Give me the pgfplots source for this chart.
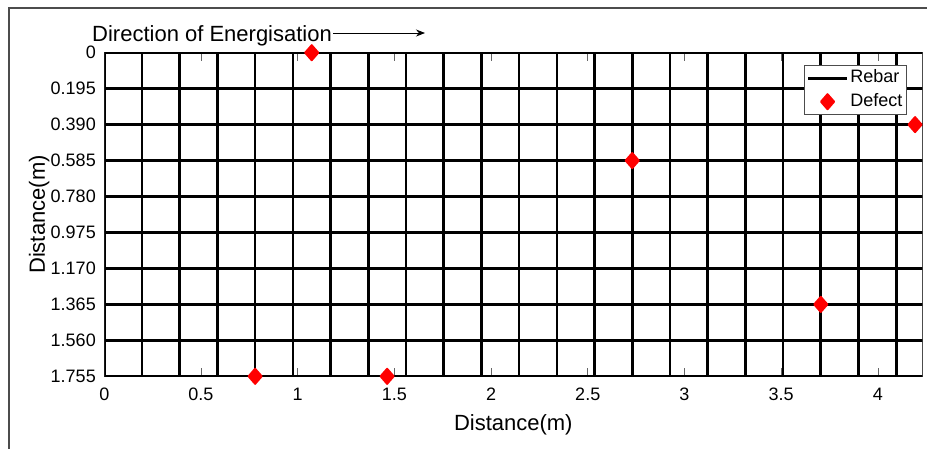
\documentclass[border=0pt]{standalone}
\usepackage{fontspec}
\setmainfont{Liberation Sans}
\usepackage{pgfplots}
\pgfplotsset{compat=1.18}
\usetikzlibrary{arrows.meta}
\pgfplotsset{
  rebarlegend/.style={legend image code/.code={\draw[black,line width=2.6pt] (0pt,0pt) -- (39pt,0pt);}},
  defectlegend/.style={legend image code/.code={\draw[mark repeat=2,mark phase=2,##1] plot coordinates {(0pt,0pt) (19.5pt,0pt) (39pt,0pt)};}},
}
\begin{document}
\begin{tikzpicture}
\useasboundingbox (0,0) rectangle (927pt,-448pt);
\draw[line width=1.3pt, color=black!70] (9pt,-452pt) -- (9pt,-8pt) -- (932pt,-8pt);
\node[anchor=base west, font=\fontsize{22}{26}\selectfont, inner sep=0pt] at (92pt,-41.5pt) {Direction of Energisation};
\draw[-{Stealth[length=9pt,width=7pt]}, line width=0.8pt] (333pt,-33pt) -- (425pt,-33pt);
\begin{axis}[
  at={(104.3pt,-376.3pt)}, anchor=south west,
  scale only axis, width=818pt, height=323.6pt,
  xmin=0, xmax=4.23, ymin=0, ymax=1.755,
  y dir=reverse,
  unbounded coords=jump,
  axis line style={black!70, line width=0.8pt},
  xtick={0,0.5,1,1.5,2,2.5,3,3.5,4},
  xticklabels={0,0.5,1,1.5,2,2.5,3,3.5,4},
  ytick={0,0.195,0.39,0.585,0.78,0.975,1.17,1.365,1.56,1.755},
  yticklabels={0,0.195,0.390,0.585,0.780,0.975,1.170,1.365,1.560,1.755},
  tick align=inside, major tick length=8pt,
  tick style={black!60, line width=0.6pt},
  ticklabel style={font=\fontsize{18}{21}\selectfont},
  xticklabel style={yshift=-8pt},
  yticklabel style={xshift=-5pt},
  /pgf/number format/assume math mode=true,
  xlabel={Distance(m)}, ylabel={Distance(m)},
  label style={font=\fontsize{22}{26}\selectfont},
  xlabel style={at={(axis description cs:0.5,-0.166)}, anchor=base},
  ylabel style={at={(axis description cs:-0.0725,0.5)}, anchor=base},
  legend style={at={(0.981,0.962)}, anchor=north east, draw=black!70, line width=0.8pt,
    font=\fontsize{18}{21}\selectfont, inner xsep=2pt, inner ysep=1.2pt, row sep=0pt, column sep=0pt,
    nodes={inner xsep=2pt, inner ysep=3pt, text height=13pt, text depth=4.4pt}},
  legend cell align=left,
]
\addplot[black, line width=2.6pt, rebarlegend] coordinates {
(0,0) (0,1.755) (nan,nan)
(0.195,0) (0.195,1.755) (nan,nan)
(0.39,0) (0.39,1.755) (nan,nan)
(0.585,0) (0.585,1.755) (nan,nan)
(0.78,0) (0.78,1.755) (nan,nan)
(0.975,0) (0.975,1.755) (nan,nan)
(1.17,0) (1.17,1.755) (nan,nan)
(1.365,0) (1.365,1.755) (nan,nan)
(1.56,0) (1.56,1.755) (nan,nan)
(1.755,0) (1.755,1.755) (nan,nan)
(1.95,0) (1.95,1.755) (nan,nan)
(2.145,0) (2.145,1.755) (nan,nan)
(2.34,0) (2.34,1.755) (nan,nan)
(2.535,0) (2.535,1.755) (nan,nan)
(2.73,0) (2.73,1.755) (nan,nan)
(2.925,0) (2.925,1.755) (nan,nan)
(3.12,0) (3.12,1.755) (nan,nan)
(3.315,0) (3.315,1.755) (nan,nan)
(3.51,0) (3.51,1.755) (nan,nan)
(3.705,0) (3.705,1.755) (nan,nan)
(3.9,0) (3.9,1.755) (nan,nan)
(4.095,0) (4.095,1.755) (nan,nan)
(0,0) (4.3,0) (nan,nan)
(0,0.195) (4.3,0.195) (nan,nan)
(0,0.39) (4.3,0.39) (nan,nan)
(0,0.585) (4.3,0.585) (nan,nan)
(0,0.78) (4.3,0.78) (nan,nan)
(0,0.975) (4.3,0.975) (nan,nan)
(0,1.17) (4.3,1.17) (nan,nan)
(0,1.365) (4.3,1.365) (nan,nan)
(0,1.56) (4.3,1.56) (nan,nan)
(0,1.755) (4.3,1.755)
};
\addlegendentry{Rebar}
\addplot[only marks, mark=diamond*, mark size=7.5pt, color=red,
  mark options={xscale=1.16, fill=red, draw=red, line width=2pt, line join=round}, defectlegend] coordinates {
(1.0725,0) (0.78,1.755) (1.4625,1.755) (2.73,0.585) (3.705,1.365) (4.1925,0.39)
};
\addlegendentry{Defect}
\end{axis}
\end{tikzpicture}
\end{document}
